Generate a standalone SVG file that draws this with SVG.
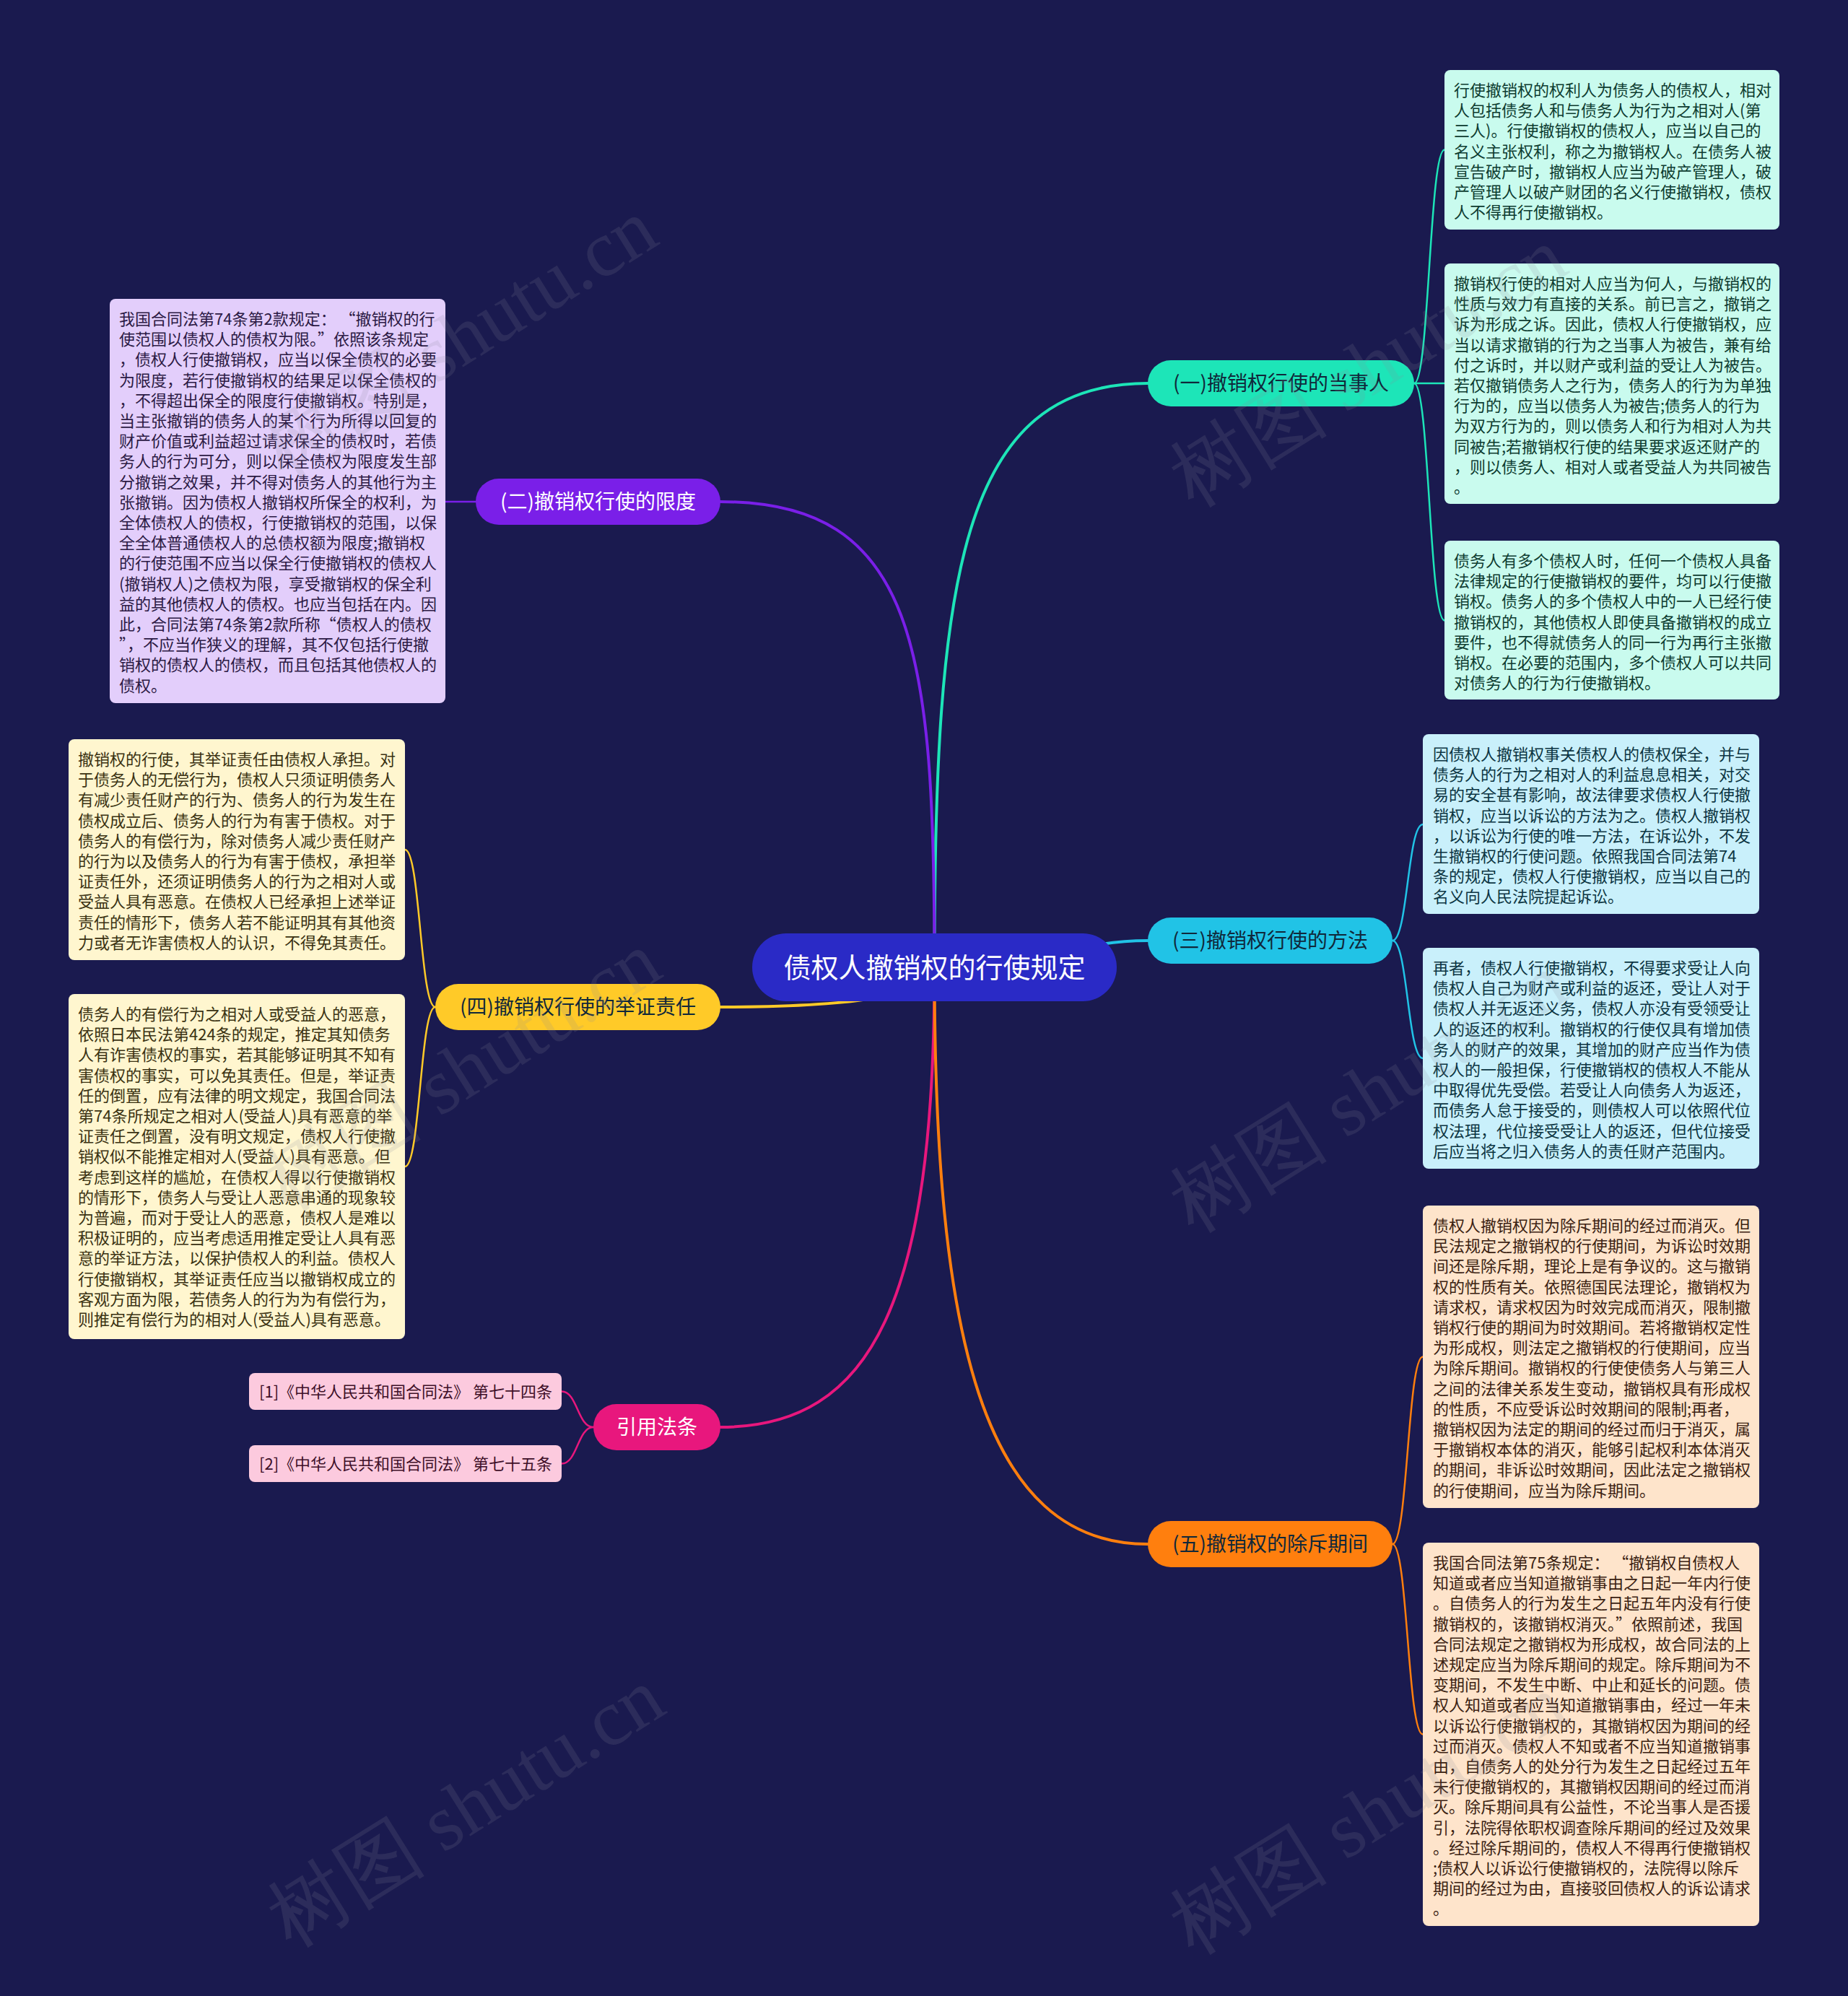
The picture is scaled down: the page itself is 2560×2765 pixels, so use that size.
<svg xmlns="http://www.w3.org/2000/svg" width="2560" height="2765" viewBox="0 0 2560 2765">
<style>
.bg{fill:#1a1a4f}
.t{font-family:"Noto Sans CJK SC","Noto Sans",sans-serif;font-size:22px}
.bt{font-family:"Noto Sans CJK SC","Noto Sans",sans-serif;font-size:28px;text-anchor:middle}
.ct{font-family:"Noto Sans CJK SC","Noto Sans",sans-serif;font-size:38px;text-anchor:middle;fill:#ffffff}
.main{fill:none;stroke-width:4;stroke-linecap:round}
.sub{fill:none;stroke-width:2.5;stroke-linecap:round}
.wm{font-family:"Liberation Serif",serif;font-size:110px;fill:#8a8a9a;opacity:0.16;text-anchor:middle}
.teal{stroke:#1de5b8}.purple{stroke:#7a1fe8}.cyan{stroke:#21c3e6}.yellow{stroke:#ffca28}.pink{stroke:#e8177d}.orange{stroke:#ff7f0e}
.lt{fill:#c9fbee}.ltt{fill:#0d3b30}
.lc{fill:#c9f0fb}.lct{fill:#0c3542}
.lo{fill:#fee4cb}.lot{fill:#3b2212}
.lp{fill:#e3cefb}.lpt{fill:#2c1a44}
.ly{fill:#fff6cf}.lyt{fill:#3a3212}
.lk{fill:#fccade}.lkt{fill:#3e1028}
</style>
<rect class="bg" x="0" y="0" width="2560" height="2765"/>

<g id="connectors">
<path class="main teal" d="M1294.5 1340 C1294.5 800 1330 531 1590 531"/>
<path class="main purple" d="M1294.5 1340 C1294.5 900 1270 695 998 695"/>
<path class="main cyan" d="M1294.5 1340 C1460 1340 1480 1303 1590 1303"/>
<path class="main yellow" d="M1294.5 1340 Q1294.5 1395 998 1395"/>
<path class="main pink" d="M1294.5 1340 C1294.5 1800 1210 1977 998 1977"/>
<path class="main orange" d="M1294.5 1340 C1294.5 1850 1360 2139 1590 2139"/>
<path class="sub teal" d="M1959 531 C1980 531 1980 207.5 2001 207.5"/>
<path class="sub teal" d="M1959 531 L2001 531"/>
<path class="sub teal" d="M1959 531 C1980 531 1980 859.5 2001 859.5"/>
<path class="sub cyan" d="M1929 1303 C1950 1303 1950 1142 1971 1142"/>
<path class="sub cyan" d="M1929 1303 C1950 1303 1950 1466 1971 1466"/>
<path class="sub orange" d="M1929 2139 C1950 2139 1950 1879.5 1971 1879.5"/>
<path class="sub orange" d="M1929 2139 C1950 2139 1950 2402.5 1971 2402.5"/>
<path class="sub purple" d="M659 695 L617 695"/>
<path class="sub yellow" d="M603 1395 C582 1395 582 1177 561 1177"/>
<path class="sub yellow" d="M603 1395 C582 1395 582 1616 561 1616"/>
<path class="sub pink" d="M822 1977 C800 1977 800 1927.5 778 1927.5"/>
<path class="sub pink" d="M822 1977 C800 1977 800 2027.5 778 2027.5"/>
</g>

<g id="center">
<rect x="1042" y="1293" width="505" height="94" rx="47" fill="#2a2ac6"/>
<text class="ct" x="1294.5" y="1354">债权人撤销权的行使规定</text>
</g>

<g id="b1">
<rect x="1590" y="499" width="369" height="64" rx="32" fill="#1de5b8"/>
<text class="bt" x="1774.5" y="541" fill="#10283a">(一)撤销权行使的当事人</text>
</g>
<g id="b2">
<rect x="659" y="663" width="339" height="64" rx="32" fill="#7a1fe8"/>
<text class="bt" x="828.5" y="705" fill="#ffffff">(二)撤销权行使的限度</text>
</g>
<g id="b3">
<rect x="1590" y="1271" width="339" height="64" rx="32" fill="#21c3e6"/>
<text class="bt" x="1759.5" y="1313" fill="#10283a">(三)撤销权行使的方法</text>
</g>
<g id="b4">
<rect x="603" y="1363" width="395" height="64" rx="32" fill="#ffca28"/>
<text class="bt" x="800.5" y="1405" fill="#10283a">(四)撤销权行使的举证责任</text>
</g>
<g id="b5">
<rect x="822" y="1945" width="176" height="64" rx="32" fill="#e8177d"/>
<text class="bt" x="910" y="1987" fill="#ffffff">引用法条</text>
</g>
<g id="b6">
<rect x="1590" y="2107" width="339" height="64" rx="32" fill="#ff7f0e"/>
<text class="bt" x="1759.5" y="2149" fill="#10283a">(五)撤销权的除斥期间</text>
</g>

<g id="r1">
<rect class="lt" x="2001" y="97" width="464" height="221" rx="8"/>
<text class="t ltt" x="2014" y="133">
<tspan x="2014" dy="0">行使撤销权的权利人为债务人的债权人，相对</tspan>
<tspan x="2014" dy="28.2">人包括债务人和与债务人为行为之相对人(第</tspan>
<tspan x="2014" dy="28.2">三人)。行使撤销权的债权人，应当以自己的</tspan>
<tspan x="2014" dy="28.2">名义主张权利，称之为撤销权人。在债务人被</tspan>
<tspan x="2014" dy="28.2">宣告破产时，撤销权人应当为破产管理人，破</tspan>
<tspan x="2014" dy="28.2">产管理人以破产财团的名义行使撤销权，债权</tspan>
<tspan x="2014" dy="28.2">人不得再行使撤销权。</tspan>
</text>
</g>
<g id="r2">
<rect class="lt" x="2001" y="365" width="464" height="333" rx="8"/>
<text class="t ltt" x="2014" y="401">
<tspan x="2014" dy="0">撤销权行使的相对人应当为何人，与撤销权的</tspan>
<tspan x="2014" dy="28.2">性质与效力有直接的关系。前已言之，撤销之</tspan>
<tspan x="2014" dy="28.2">诉为形成之诉。因此，债权人行使撤销权，应</tspan>
<tspan x="2014" dy="28.2">当以请求撤销的行为之当事人为被告，兼有给</tspan>
<tspan x="2014" dy="28.2">付之诉时，并以财产或利益的受让人为被告。</tspan>
<tspan x="2014" dy="28.2">若仅撤销债务人之行为，债务人的行为为单独</tspan>
<tspan x="2014" dy="28.2">行为的，应当以债务人为被告;债务人的行为</tspan>
<tspan x="2014" dy="28.2">为双方行为的，则以债务人和行为相对人为共</tspan>
<tspan x="2014" dy="28.2">同被告;若撤销权行使的结果要求返还财产的</tspan>
<tspan x="2014" dy="28.2">，则以债务人、相对人或者受益人为共同被告</tspan>
<tspan x="2014" dy="28.2">。</tspan>
</text>
</g>
<g id="r3">
<rect class="lt" x="2001" y="749" width="464" height="220" rx="8"/>
<text class="t ltt" x="2014" y="785">
<tspan x="2014" dy="0">债务人有多个债权人时，任何一个债权人具备</tspan>
<tspan x="2014" dy="28.2">法律规定的行使撤销权的要件，均可以行使撤</tspan>
<tspan x="2014" dy="28.2">销权。债务人的多个债权人中的一人已经行使</tspan>
<tspan x="2014" dy="28.2">撤销权的，其他债权人即使具备撤销权的成立</tspan>
<tspan x="2014" dy="28.2">要件，也不得就债务人的同一行为再行主张撤</tspan>
<tspan x="2014" dy="28.2">销权。在必要的范围内，多个债权人可以共同</tspan>
<tspan x="2014" dy="28.2">对债务人的行为行使撤销权。</tspan>
</text>
</g>
<g id="r4">
<rect class="lc" x="1971" y="1017" width="466" height="249" rx="8"/>
<text class="t lct" x="1985" y="1053">
<tspan x="1985" dy="0">因债权人撤销权事关债权人的债权保全，并与</tspan>
<tspan x="1985" dy="28.2">债务人的行为之相对人的利益息息相关，对交</tspan>
<tspan x="1985" dy="28.2">易的安全甚有影响，故法律要求债权人行使撤</tspan>
<tspan x="1985" dy="28.2">销权，应当以诉讼的方法为之。债权人撤销权</tspan>
<tspan x="1985" dy="28.2">，以诉讼为行使的唯一方法，在诉讼外，不发</tspan>
<tspan x="1985" dy="28.2">生撤销权的行使问题。依照我国合同法第74</tspan>
<tspan x="1985" dy="28.2">条的规定，债权人行使撤销权，应当以自己的</tspan>
<tspan x="1985" dy="28.2">名义向人民法院提起诉讼。</tspan>
</text>
</g>
<g id="r5">
<rect class="lc" x="1971" y="1313" width="466" height="306" rx="8"/>
<text class="t lct" x="1985" y="1349">
<tspan x="1985" dy="0">再者，债权人行使撤销权，不得要求受让人向</tspan>
<tspan x="1985" dy="28.2">债权人自己为财产或利益的返还，受让人对于</tspan>
<tspan x="1985" dy="28.2">债权人并无返还义务，债权人亦没有受领受让</tspan>
<tspan x="1985" dy="28.2">人的返还的权利。撤销权的行使仅具有增加债</tspan>
<tspan x="1985" dy="28.2">务人的财产的效果，其增加的财产应当作为债</tspan>
<tspan x="1985" dy="28.2">权人的一般担保，行使撤销权的债权人不能从</tspan>
<tspan x="1985" dy="28.2">中取得优先受偿。若受让人向债务人为返还，</tspan>
<tspan x="1985" dy="28.2">而债务人怠于接受的，则债权人可以依照代位</tspan>
<tspan x="1985" dy="28.2">权法理，代位接受受让人的返还，但代位接受</tspan>
<tspan x="1985" dy="28.2">后应当将之归入债务人的责任财产范围内。</tspan>
</text>
</g>
<g id="r6">
<rect class="lo" x="1971" y="1670" width="466" height="419" rx="8"/>
<text class="t lot" x="1985" y="1706">
<tspan x="1985" dy="0">债权人撤销权因为除斥期间的经过而消灭。但</tspan>
<tspan x="1985" dy="28.2">民法规定之撤销权的行使期间，为诉讼时效期</tspan>
<tspan x="1985" dy="28.2">间还是除斥期，理论上是有争议的。这与撤销</tspan>
<tspan x="1985" dy="28.2">权的性质有关。依照德国民法理论，撤销权为</tspan>
<tspan x="1985" dy="28.2">请求权，请求权因为时效完成而消灭，限制撤</tspan>
<tspan x="1985" dy="28.2">销权行使的期间为时效期间。若将撤销权定性</tspan>
<tspan x="1985" dy="28.2">为形成权，则法定之撤销权的行使期间，应当</tspan>
<tspan x="1985" dy="28.2">为除斥期间。撤销权的行使使债务人与第三人</tspan>
<tspan x="1985" dy="28.2">之间的法律关系发生变动，撤销权具有形成权</tspan>
<tspan x="1985" dy="28.2">的性质，不应受诉讼时效期间的限制;再者，</tspan>
<tspan x="1985" dy="28.2">撤销权因为法定的期间的经过而归于消灭，属</tspan>
<tspan x="1985" dy="28.2">于撤销权本体的消灭，能够引起权利本体消灭</tspan>
<tspan x="1985" dy="28.2">的期间，非诉讼时效期间，因此法定之撤销权</tspan>
<tspan x="1985" dy="28.2">的行使期间，应当为除斥期间。</tspan>
</text>
</g>
<g id="r7">
<rect class="lo" x="1971" y="2137" width="466" height="531" rx="8"/>
<text class="t lot" x="1985" y="2173">
<tspan x="1985" dy="0">我国合同法第75条规定： “撤销权自债权人</tspan>
<tspan x="1985" dy="28.2">知道或者应当知道撤销事由之日起一年内行使</tspan>
<tspan x="1985" dy="28.2">。自债务人的行为发生之日起五年内没有行使</tspan>
<tspan x="1985" dy="28.2">撤销权的，该撤销权消灭。”依照前述，我国</tspan>
<tspan x="1985" dy="28.2">合同法规定之撤销权为形成权，故合同法的上</tspan>
<tspan x="1985" dy="28.2">述规定应当为除斥期间的规定。除斥期间为不</tspan>
<tspan x="1985" dy="28.2">变期间，不发生中断、中止和延长的问题。债</tspan>
<tspan x="1985" dy="28.2">权人知道或者应当知道撤销事由，经过一年未</tspan>
<tspan x="1985" dy="28.2">以诉讼行使撤销权的，其撤销权因为期间的经</tspan>
<tspan x="1985" dy="28.2">过而消灭。债权人不知或者不应当知道撤销事</tspan>
<tspan x="1985" dy="28.2">由，自债务人的处分行为发生之日起经过五年</tspan>
<tspan x="1985" dy="28.2">未行使撤销权的，其撤销权因期间的经过而消</tspan>
<tspan x="1985" dy="28.2">灭。除斥期间具有公益性，不论当事人是否援</tspan>
<tspan x="1985" dy="28.2">引，法院得依职权调查除斥期间的经过及效果</tspan>
<tspan x="1985" dy="28.2">。经过除斥期间的，债权人不得再行使撤销权</tspan>
<tspan x="1985" dy="28.2">;债权人以诉讼行使撤销权的，法院得以除斥</tspan>
<tspan x="1985" dy="28.2">期间的经过为由，直接驳回债权人的诉讼请求</tspan>
<tspan x="1985" dy="28.2">。</tspan>
</text>
</g>
<g id="l1">
<rect class="lp" x="152" y="414" width="465" height="560" rx="8"/>
<text class="t lpt" x="165" y="450">
<tspan x="165" dy="0">我国合同法第74条第2款规定： “撤销权的行</tspan>
<tspan x="165" dy="28.2">使范围以债权人的债权为限。”依照该条规定</tspan>
<tspan x="165" dy="28.2">，债权人行使撤销权，应当以保全债权的必要</tspan>
<tspan x="165" dy="28.2">为限度，若行使撤销权的结果足以保全债权的</tspan>
<tspan x="165" dy="28.2">，不得超出保全的限度行使撤销权。特别是，</tspan>
<tspan x="165" dy="28.2">当主张撤销的债务人的某个行为所得以回复的</tspan>
<tspan x="165" dy="28.2">财产价值或利益超过请求保全的债权时，若债</tspan>
<tspan x="165" dy="28.2">务人的行为可分，则以保全债权为限度发生部</tspan>
<tspan x="165" dy="28.2">分撤销之效果，并不得对债务人的其他行为主</tspan>
<tspan x="165" dy="28.2">张撤销。因为债权人撤销权所保全的权利，为</tspan>
<tspan x="165" dy="28.2">全体债权人的债权，行使撤销权的范围，以保</tspan>
<tspan x="165" dy="28.2">全全体普通债权人的总债权额为限度;撤销权</tspan>
<tspan x="165" dy="28.2">的行使范围不应当以保全行使撤销权的债权人</tspan>
<tspan x="165" dy="28.2">(撤销权人)之债权为限，享受撤销权的保全利</tspan>
<tspan x="165" dy="28.2">益的其他债权人的债权。也应当包括在内。因</tspan>
<tspan x="165" dy="28.2">此，合同法第74条第2款所称“债权人的债权</tspan>
<tspan x="165" dy="28.2">”，不应当作狭义的理解，其不仅包括行使撤</tspan>
<tspan x="165" dy="28.2">销权的债权人的债权，而且包括其他债权人的</tspan>
<tspan x="165" dy="28.2">债权。</tspan>
</text>
</g>
<g id="l2">
<rect class="ly" x="95" y="1024" width="466" height="306" rx="8"/>
<text class="t lyt" x="108" y="1060">
<tspan x="108" dy="0">撤销权的行使，其举证责任由债权人承担。对</tspan>
<tspan x="108" dy="28.2">于债务人的无偿行为，债权人只须证明债务人</tspan>
<tspan x="108" dy="28.2">有减少责任财产的行为、债务人的行为发生在</tspan>
<tspan x="108" dy="28.2">债权成立后、债务人的行为有害于债权。对于</tspan>
<tspan x="108" dy="28.2">债务人的有偿行为，除对债务人减少责任财产</tspan>
<tspan x="108" dy="28.2">的行为以及债务人的行为有害于债权，承担举</tspan>
<tspan x="108" dy="28.2">证责任外，还须证明债务人的行为之相对人或</tspan>
<tspan x="108" dy="28.2">受益人具有恶意。在债权人已经承担上述举证</tspan>
<tspan x="108" dy="28.2">责任的情形下，债务人若不能证明其有其他资</tspan>
<tspan x="108" dy="28.2">力或者无诈害债权人的认识，不得免其责任。</tspan>
</text>
</g>
<g id="l3">
<rect class="ly" x="95" y="1377" width="466" height="478" rx="8"/>
<text class="t lyt" x="108" y="1413">
<tspan x="108" dy="0">债务人的有偿行为之相对人或受益人的恶意，</tspan>
<tspan x="108" dy="28.2">依照日本民法第424条的规定，推定其知债务</tspan>
<tspan x="108" dy="28.2">人有诈害债权的事实，若其能够证明其不知有</tspan>
<tspan x="108" dy="28.2">害债权的事实，可以免其责任。但是，举证责</tspan>
<tspan x="108" dy="28.2">任的倒置，应有法律的明文规定，我国合同法</tspan>
<tspan x="108" dy="28.2">第74条所规定之相对人(受益人)具有恶意的举</tspan>
<tspan x="108" dy="28.2">证责任之倒置，没有明文规定，债权人行使撤</tspan>
<tspan x="108" dy="28.2">销权似不能推定相对人(受益人)具有恶意。但</tspan>
<tspan x="108" dy="28.2">考虑到这样的尴尬，在债权人得以行使撤销权</tspan>
<tspan x="108" dy="28.2">的情形下，债务人与受让人恶意串通的现象较</tspan>
<tspan x="108" dy="28.2">为普遍，而对于受让人的恶意，债权人是难以</tspan>
<tspan x="108" dy="28.2">积极证明的，应当考虑适用推定受让人具有恶</tspan>
<tspan x="108" dy="28.2">意的举证方法，以保护债权人的利益。债权人</tspan>
<tspan x="108" dy="28.2">行使撤销权，其举证责任应当以撤销权成立的</tspan>
<tspan x="108" dy="28.2">客观方面为限，若债务人的行为为有偿行为，</tspan>
<tspan x="108" dy="28.2">则推定有偿行为的相对人(受益人)具有恶意。</tspan>
</text>
</g>
<g id="c1">
<rect class="lk" x="345" y="1902" width="433" height="51" rx="8"/>
<text class="t lkt" x="359" y="1936">[1]《中华人民共和国合同法》 第七十四条</text>
</g>
<g id="c2">
<rect class="lk" x="345" y="2002" width="433" height="51" rx="8"/>
<text class="t lkt" x="359" y="2036">[2]《中华人民共和国合同法》 第七十五条</text>
</g>

<g id="watermarks">
<text class="wm" x="655" y="500" transform="rotate(-32 655 500)">树图 shutu.cn</text>
<text class="wm" x="1915" y="540" transform="rotate(-32 1915 540)">树图 shutu.cn</text>
<text class="wm" x="660" y="1515" transform="rotate(-32 660 1515)">树图 shutu.cn</text>
<text class="wm" x="1915" y="1545" transform="rotate(-32 1915 1545)">树图 shutu.cn</text>
<text class="wm" x="665" y="2535" transform="rotate(-32 665 2535)">树图 shutu.cn</text>
<text class="wm" x="1915" y="2545" transform="rotate(-32 1915 2545)">树图 shutu.cn</text>
</g>
</svg>
